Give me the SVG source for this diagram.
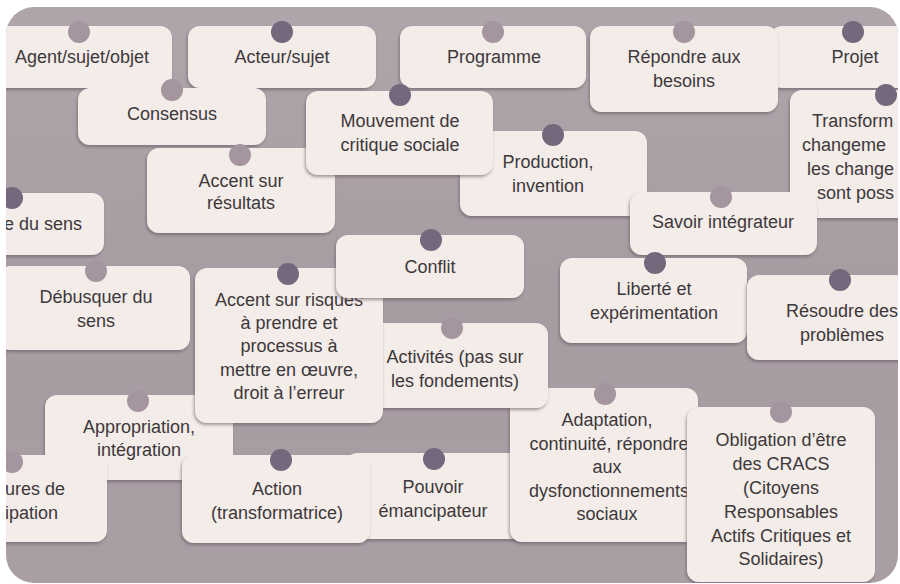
<svg xmlns="http://www.w3.org/2000/svg" width="900" height="584" viewBox="0 0 900 584">
<defs>
<linearGradient id="bg" x1="0" y1="0" x2="0" y2="1">
<stop offset="0" stop-color="#afa5aa"/>
<stop offset="0.5" stop-color="#a79ca2"/>
<stop offset="1" stop-color="#a99ea4"/>
</linearGradient>
<clipPath id="board"><rect x="6" y="7" width="892" height="576" rx="28"/></clipPath>
<filter id="sh" x="-10%" y="-10%" width="120%" height="130%">
<feDropShadow dx="-1" dy="2" stdDeviation="1.5" flood-color="#5e5058" flood-opacity="0.55"/>
</filter>
<filter id="ps" x="-30%" y="-30%" width="160%" height="160%">
<feGaussianBlur stdDeviation="0.6"/>
</filter>
</defs>
<style>
.card{fill:#f3ece8;filter:url(#sh)}
.pd{fill:#75687c;filter:url(#ps)}
.pl{fill:#a5959e;filter:url(#ps)}
text{font-family:"Liberation Sans",Arial,sans-serif;font-size:18px;fill:#3d383b;text-anchor:middle}
.st{text-anchor:start}
</style>
<rect width="900" height="584" fill="#ffffff"/>
<rect x="6" y="7" width="892" height="576" rx="28" fill="url(#bg)"/>
<g clip-path="url(#board)">
<g id="agent"><rect class="card" x="-20" y="26" width="192" height="62" rx="12"/><circle class="pl" cx="79" cy="32" r="11"/><text x="82" y="63">Agent/sujet/objet</text></g>
<g id="acteur"><rect class="card" x="188" y="26" width="188" height="62" rx="12"/><circle class="pd" cx="282" cy="32" r="11"/><text x="282" y="63">Acteur/sujet</text></g>
<g id="programme"><rect class="card" x="400" y="26" width="186" height="62" rx="12"/><circle class="pl" cx="493" cy="32" r="11"/><text x="494" y="63">Programme</text></g>
<g id="projet"><rect class="card" x="770" y="26" width="190" height="62" rx="12"/><circle class="pd" cx="853" cy="32" r="11"/><text x="855" y="63">Projet</text></g>
<g id="repondre"><rect class="card" x="590" y="26" width="188" height="86" rx="12"/><circle class="pl" cx="684" cy="32" r="11"/><text x="684" y="63">Répondre aux</text><text x="684" y="87">besoins</text></g>
<g id="consensus"><rect class="card" x="78" y="88" width="188" height="57" rx="12"/><circle class="pl" cx="172" cy="90" r="11"/><text x="172" y="120">Consensus</text></g>
<g id="production"><rect class="card" x="460" y="131" width="187" height="85" rx="12"/><circle class="pd" cx="553" cy="135" r="11"/><text x="548" y="168">Production,</text><text x="548" y="192">invention</text></g>
<g id="resultats"><rect class="card" x="147" y="148" width="188" height="85" rx="12"/><circle class="pl" cx="240" cy="155" r="11"/><text x="241" y="187">Accent sur</text><text x="241" y="209">résultats</text></g>
<g id="mouvement"><rect class="card" x="306" y="91" width="187" height="84" rx="12"/><circle class="pd" cx="400" cy="95" r="11"/><text x="400" y="127">Mouvement de</text><text x="400" y="151">critique sociale</text></g>
<g id="transform"><rect class="card" x="790" y="90" width="190" height="128" rx="12"/><circle class="pd" cx="886" cy="95" r="11"/><text class="st" x="812" y="127">Transform</text><text class="st" x="802" y="151">changeme</text><text class="st" x="807" y="175">les change</text><text class="st" x="817" y="199">sont poss</text></g>
<g id="savoir"><rect class="card" x="630" y="192" width="187" height="63" rx="12"/><circle class="pl" cx="721" cy="197" r="11"/><text x="723" y="228">Savoir intégrateur</text></g>
<g id="sens"><rect class="card" x="-80" y="193" width="184" height="62" rx="12"/><circle class="pd" cx="12" cy="198" r="11"/><text class="st" x="4" y="230">e du sens</text></g>
<g id="debusquer"><rect class="card" x="-2" y="266" width="192" height="84" rx="12"/><circle class="pl" cx="96" cy="271" r="11"/><text x="96" y="303">Débusquer du</text><text x="96" y="327">sens</text></g>
<g id="appropriation"><rect class="card" x="45" y="395" width="188" height="85" rx="12"/><circle class="pl" cx="138" cy="401" r="11"/><text x="139" y="433">Appropriation,</text><text x="139" y="456">intégration</text></g>
<g id="liberte"><rect class="card" x="560" y="258" width="187" height="85" rx="12"/><circle class="pd" cx="655" cy="263" r="11"/><text x="654" y="295">Liberté et</text><text x="654" y="319">expérimentation</text></g>
<g id="resoudre"><rect class="card" x="747" y="275" width="200" height="85" rx="12"/><circle class="pd" cx="840" cy="280" r="11"/><text x="842" y="317">Résoudre des</text><text x="842" y="341">problèmes</text></g>
<g id="pouvoir"><rect class="card" x="345" y="453" width="186" height="86" rx="12"/><circle class="pd" cx="434" cy="459" r="11"/><text x="433" y="493">Pouvoir</text><text x="433" y="517">émancipateur</text></g>
<g id="action"><rect class="card" x="182" y="455" width="188" height="88" rx="12"/><circle class="pd" cx="281" cy="460" r="11"/><text x="277" y="495">Action</text><text x="277" y="519">(transformatrice)</text></g>
<g id="participation"><rect class="card" x="-80" y="455" width="187" height="87" rx="12"/><circle class="pl" cx="12" cy="462" r="11"/><text class="st" x="5" y="495">ures de</text><text class="st" x="5" y="519">ipation</text></g>
<g id="adaptation"><rect class="card" x="510" y="388" width="188" height="154" rx="12"/><circle class="pl" cx="605" cy="394" r="11"/><text x="607" y="426">Adaptation,</text><text x="609" y="450">continuité, répondre</text><text x="607" y="473">aux</text><text x="609" y="497">dysfonctionnements</text><text x="607" y="520">sociaux</text></g>
<g id="obligation"><rect class="card" x="687" y="407" width="188" height="175" rx="12"/><circle class="pl" cx="781" cy="412" r="11"/><text x="781" y="446">Obligation d’être</text><text x="781" y="470">des CRACS</text><text x="781" y="494">(Citoyens</text><text x="781" y="518">Responsables</text><text x="781" y="542">Actifs Critiques et</text><text x="781" y="565">Solidaires)</text></g>
<g id="activites"><rect class="card" x="360" y="323" width="188" height="85" rx="12"/><circle class="pl" cx="452" cy="328" r="11"/><text x="455" y="363">Activités (pas sur</text><text x="455" y="387">les fondements)</text></g>
<g id="risques"><rect class="card" x="195" y="268" width="188" height="155" rx="12"/><circle class="pd" cx="288" cy="274" r="11"/><text x="289" y="306">Accent sur risques</text><text x="289" y="329">à prendre et</text><text x="289" y="352">processus à</text><text x="289" y="376">mettre en œuvre,</text><text x="289" y="399">droit à l’erreur</text></g>
<g id="conflit"><rect class="card" x="336" y="235" width="188" height="63" rx="12"/><circle class="pd" cx="431" cy="240" r="11"/><text x="430" y="273">Conflit</text></g>
</g>
</svg>
